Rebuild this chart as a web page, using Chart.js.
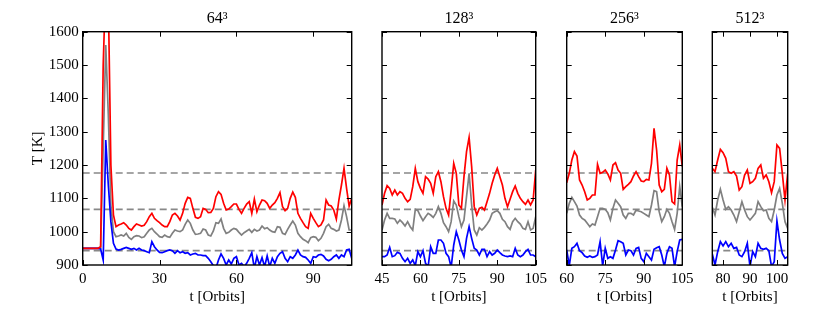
<!DOCTYPE html>
<html><head><meta charset="utf-8">
<script src="https://cdn.jsdelivr.net/npm/chart.js@4.4.0/dist/chart.umd.min.js"></script>
<style>
html,body{margin:0;padding:0;background:#fff;}
#wrap{position:relative;width:830px;height:312px;overflow:hidden;}
canvas{position:absolute;left:0;top:0;}
</style></head><body>
<div id="wrap">
<canvas id="c1" width="830" height="312"></canvas>
<canvas id="c2" width="830" height="312"></canvas>
<canvas id="c3" width="830" height="312"></canvas>
<canvas id="c4" width="830" height="312"></canvas>
</div>
<script>
// ---------------- data ----------------
const panelTitles = ['64³', '128³', '256³', '512³'];
const levels = [1176, 1067, 943];
const yTicks = [900, 1000, 1100, 1200, 1300, 1400, 1500, 1600];
const xTicks64 = [0, 30, 60, 90];
const xTicks128 = [45, 60, 75, 90, 105];
const xTicks256 = [60, 75, 90, 105];
const xTicks512 = [80, 90, 100];

const t64 = [0,1,2,3,4,5,6,7,8,9,10,11,12,13,14,15,16,17,18,19,20,21,22,23,24,25,26,27,28,29,30,31,32,33,34,35,36,37,38,39,40,41,42,43,44,45,46,47,48,49,50,51,52,53,54,55,56,57,58,59,60,61,62,63,64,65,66,67,68,69,70,71,72,73,74,75,76,77,78,79,80,81,82,83,84,85,86,87,88,89,90,91,92,93,94,95,96,97,98,99,100,101,102,103,104,105];
const red64 = [950,950,950,950,950,950,950,955,1500,1750,1700,1200,1050,1015,
 1020,1023,1027,1020,1010,1005,1015,1023,1020,1017,1019,1030,1045,1055,1040,1033,1027,1020,1015,1015,1030,1050,1055,1047,1035,1055,1085,1103,1100,1070,1043,1040,1045,1070,1067,1057,1058,1070,1105,1120,1112,1085,1065,1068,1075,1083,1083,1067,1055,1070,1083,1090,1055,1098,1060,1080,1095,1093,1085,1070,1080,1087,1100,1117,1075,1063,1070,1100,1119,1103,1055,1040,1027,1015,1010,1055,1040,1027,1015,1020,1035,1095,1080,1077,1065,1038,1095,1140,1190,1130,1077,1100];
const gray64 = [950,950,950,950,950,950,950,950,1250,1560,1350,1080,1000,985,
 987,990,987,995,983,977,985,988,987,982,985,995,1005,1010,1000,993,985,983,990,985,983,995,1005,1002,1000,1005,1022,1035,1025,1005,992,993,995,1008,1005,990,987,1002,1027,1025,1038,1010,995,998,1005,1010,1007,998,990,997,1002,1007,998,1007,1002,1005,1017,1009,1012,1005,1000,998,1015,1013,995,992,1007,1020,1032,1020,995,985,977,973,967,982,985,983,973,980,995,1015,1022,1010,1007,1002,1005,1035,1078,1045,1005,1005];
const blue64 = [950,950,950,950,950,950,950,948,915,1275,1140,1030,965,948,
 945,947,950,953,950,947,950,945,950,945,943,940,937,970,955,945,938,937,940,943,945,943,935,943,937,940,935,937,930,933,935,930,930,928,928,920,910,898,890,915,933,920,900,915,903,920,925,900,905,895,905,920,937,890,925,900,922,895,927,895,920,905,925,935,940,920,910,925,920,930,945,930,925,923,915,905,925,923,930,932,927,917,913,917,925,930,920,930,925,945,947,920];

const t128 = [45,46,47,48,49,50,51,52,53,54,55,56,57,58,59,60,61,62,63,64,65,66,67,68,69,70,71,72,73,74,75,76,77,78,79,80,81,82,83,84,85,86,87,88,89,90,91,92,93,94,95,96,97,98,99,100,101,102,103,104,105];
const red128 = [1080,1115,1138,1130,1110,1125,1110,1120,1115,1100,1090,1097,1135,1190,1150,1130,1115,1165,1158,1145,1115,1165,1180,1150,1105,1070,1050,1125,1205,1175,1080,1070,1165,1240,1283,1195,1075,1050,1070,1073,1065,1090,1115,1145,1170,1190,1165,1140,1100,1075,1097,1120,1137,1115,1100,1090,1082,1095,1080,1095,1185];
const gray128 = [1005,1035,1055,1040,1040,1038,1025,1035,1027,1017,1030,1015,1005,1067,1063,1047,1033,1045,1055,1050,1043,1055,1075,1055,1027,1015,1000,1030,1092,1080,1045,1015,1035,1105,1175,1080,1005,990,1012,1005,1013,1023,1035,1055,1060,1063,1055,1037,1030,1015,1007,1030,1040,1030,1023,1010,1007,1030,1005,1010,1045];
const blue128 = [925,925,930,953,925,928,938,935,920,910,920,905,915,898,940,925,943,905,895,955,935,935,975,975,965,935,925,893,960,1000,975,945,925,980,1015,980,950,945,930,947,947,925,940,930,935,945,937,930,927,925,927,925,950,930,925,930,940,947,930,930,925];

const t256 = [60,61,62,63,64,65,66,67,68,69,70,71,72,73,74,75,76,77,78,79,80,81,82,83,84,85,86,87,88,89,90,91,92,93,94,95,96,97,98,99,100,101,102,103,104,105];
const red256 = [1147,1175,1215,1240,1227,1155,1140,1120,1095,1100,1110,1110,1202,1175,1178,1185,1173,1155,1200,1207,1185,1175,1127,1135,1142,1150,1167,1180,1165,1152,1150,1157,1155,1205,1310,1245,1140,1120,1127,1190,1170,1090,1083,1215,1260,1195];
const gray256 = [1055,1085,1103,1090,1077,1050,1040,1035,1025,1015,1023,1020,1045,1070,1070,1067,1057,1035,1070,1095,1085,1075,1050,1040,1055,1055,1050,1065,1062,1060,1055,1050,1045,1080,1123,1120,1060,1030,1045,1067,1055,1030,1007,1055,1135,1075];
const blue256 = [945,898,950,955,965,943,937,927,923,927,923,925,930,970,898,950,920,925,920,945,973,970,965,930,945,943,930,950,953,920,910,935,925,915,947,952,955,930,895,935,955,950,895,940,975,977];

const t512 = [76,77,78,79,80,81,82,83,84,85,86,87,88,89,90,91,92,93,94,95,96,97,98,99,100,101,102,103,104];
const red512 = [1190,1180,1215,1247,1237,1220,1180,1175,1180,1167,1125,1135,1170,1185,1145,1150,1160,1190,1200,1160,1170,1150,1117,1150,1260,1250,1175,1095,1175];
const gray512 = [1073,1050,1095,1127,1095,1067,1075,1065,1050,1030,1060,1090,1065,1045,1035,1045,1055,1090,1075,1063,1065,1040,1030,1065,1110,1130,1085,1030,1010];
const blue512 = [933,900,940,970,957,970,955,965,950,953,930,925,940,965,895,940,925,965,950,947,950,943,895,910,1032,975,935,920,925];

// ---------------- layout / style ----------------
const FONT = "'Liberation Serif', 'Times New Roman', serif";
const W = 830, H = 312;
const panels = [
  {id:'c1', title:panelTitles[0], t:t64,  red:red64,  gray:gray64,  blue:blue64,  xmin:0,  xmax:105, xticks:xTicks64,  left:82.7,  right:351.7, showY:true},
  {id:'c2', title:panelTitles[1], t:t128, red:red128, gray:gray128, blue:blue128, xmin:45, xmax:105, xticks:xTicks128, left:382,   right:535.7, showY:false},
  {id:'c3', title:panelTitles[2], t:t256, red:red256, gray:gray256, blue:blue256, xmin:60, xmax:105, xticks:xTicks256, left:566.7, right:682.3, showY:false},
  {id:'c4', title:panelTitles[3], t:t512, red:red512, gray:gray512, blue:blue512, xmin:76, xmax:104, xticks:xTicks512, left:712.3, right:787.7, showY:false}
];

const toXY = (xs, ys) => xs.map((x, i) => ({x: x, y: ys[i]}));

const framePlugin = {
  id: 'frame',
  afterDraw(chart) {
    const {ctx, chartArea: a, scales: {x, y}} = chart;
    ctx.save();
    ctx.strokeStyle = '#000';
    ctx.lineWidth = 1;
    ctx.beginPath();
    const L = 5;
    for (const tk of x.ticks) {
      const px = Math.round(x.getPixelForValue(tk.value)) + 0.5;
      ctx.moveTo(px, a.bottom); ctx.lineTo(px, a.bottom - L);
      ctx.moveTo(px, a.top); ctx.lineTo(px, a.top + L);
    }
    for (const tk of y.ticks) {
      const py = Math.round(y.getPixelForValue(tk.value)) + 0.5;
      ctx.moveTo(a.left, py); ctx.lineTo(a.left + L, py);
      ctx.moveTo(a.right, py); ctx.lineTo(a.right - L, py);
    }
    ctx.stroke();
    ctx.lineWidth = 1.4;
    ctx.strokeRect(a.left, a.top, a.right - a.left, a.bottom - a.top);
    ctx.restore();
  }
};

const lineDs = (data, color) => ({data, borderColor: color, borderWidth: 1.7, pointRadius: 0, tension: 0, fill: false});

panels.forEach(p => {
  const datasets = [
    lineDs(toXY(p.t, p.red), '#ff0000'),
    lineDs(toXY(p.t, p.blue), '#0000ff'),
    lineDs(toXY(p.t, p.gray), '#808080')
  ];
  levels.forEach(v => {
    const d = lineDs([{x: p.xmin, y: v}, {x: p.xmax, y: v}], '#888888');
    d.borderDash = [7, 4];
    d.borderWidth = 1.6;
    datasets.push(d);
  });
  const font = {family: FONT, size: 15, weight: 'normal'};
  new Chart(document.getElementById(p.id), {
    type: 'line',
    data: {datasets},
    options: {
      responsive: false,
      animation: false,
      events: [],
      layout: {padding: {left: 0, right: W - p.right, top: 0, bottom: 0}},
      plugins: {
        legend: {display: false},
        tooltip: {enabled: false},
        title: {display: true, text: p.title, fullSize: false, color: '#000',
                font: {family: FONT, size: 16, weight: 'normal'}, padding: {top: 9.5, bottom: 3}}
      },
      scales: {
        x: {
          type: 'linear', min: p.xmin, max: p.xmax,
          afterBuildTicks: s => { s.ticks = p.xticks.map(v => ({value: v})); },
          afterFit: s => { s.height = 47; },
          grid: {display: false, drawTicks: false},
          border: {display: false},
          ticks: {font, color: '#000', padding: 5, maxRotation: 0, autoSkip: false, callback: v => String(v)},
          title: {display: true, text: 't [Orbits]', color: '#000', font, padding: {top: 0, bottom: 6}}
        },
        y: {
          type: 'linear', min: 900, max: 1600,
          afterBuildTicks: s => { s.ticks = yTicks.map(v => ({value: v})); },
          afterFit: s => { s.width = p.left; },
          grid: {display: false, drawTicks: false},
          border: {display: false},
          ticks: {display: p.showY, font, color: '#000', padding: 4, autoSkip: false, callback: v => String(v)},
          title: {display: p.showY, text: 'T [K]', color: '#000', font, padding: {top: 29, bottom: 0}}
        }
      }
    },
    plugins: [framePlugin]
  });
});
</script>
</body></html>
